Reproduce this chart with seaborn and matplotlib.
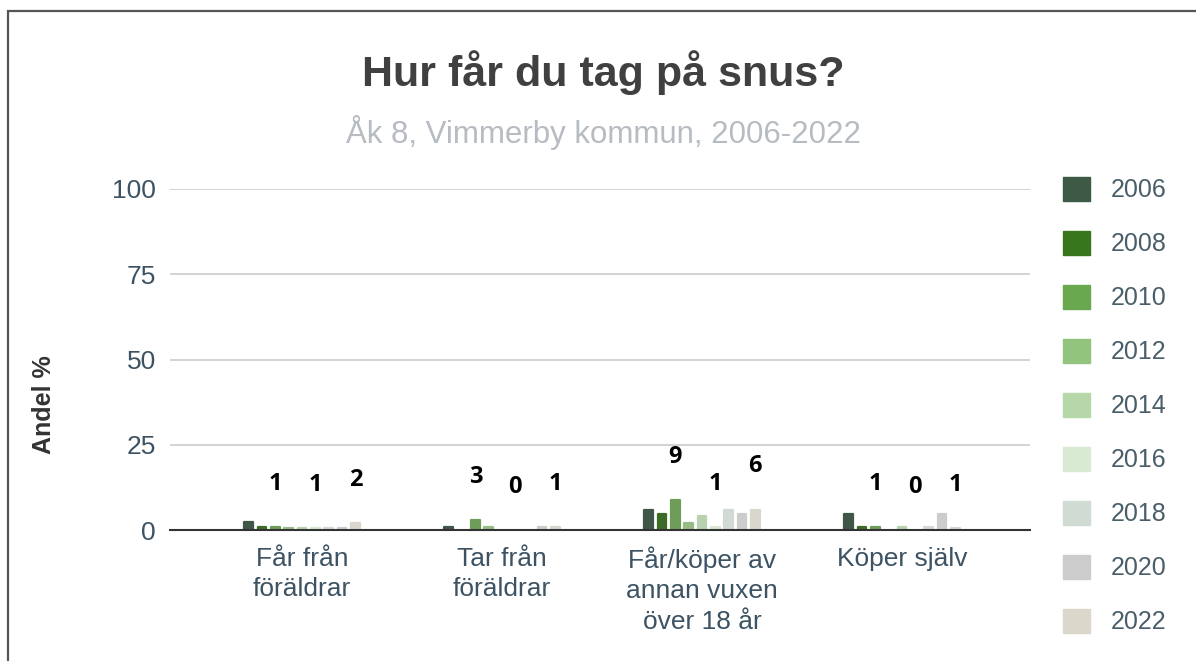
import matplotlib.pyplot as plt
import matplotlib.patches as mpatches
import seaborn as sns
import pandas as pd

sns.set_theme(style='white')
plt.rcParams['font.family'] = ['Liberation Sans', 'DejaVu Sans']

# data
categories = ['Får från\nföräldrar', 'Tar från\nföräldrar', 'Får/köper av\nannan vuxen\növer 18 år', 'Köper själv']
years = ['2006', '2008', '2010', '2012', '2014', '2016', '2018', '2020', '2022']
values = {
    '2006': [2.4, 0.8, 5.9, 4.6],
    '2008': [0.8, 0.0, 4.6, 0.8],
    '2010': [0.8, 2.9, 8.7, 0.8],
    '2012': [0.7, 0.8, 2.1, 0.0],
    '2014': [0.6, 0.0, 4.0, 0.8],
    '2016': [0.6, 0.0, 0.8, 0.0],
    '2018': [0.6, 0.0, 6.0, 0.8],
    '2020': [0.6, 0.8, 4.6, 4.6],
    '2022': [2.1, 0.8, 6.0, 0.6],
}
label_years = ['2010', '2016', '2022']
colors = ['#3c5a45', '#38761d', '#6aa84f', '#93c47d', '#b6d7a8',
          '#d9ead3', '#d0dbd4', '#cccccc', '#dbd8cb']

df = pd.DataFrame([(c, y, values[y][i]) for y in years for i, c in enumerate(categories)],
                  columns=['kategori', 'ar', 'andel'])

fig = plt.figure(figsize=(11.96, 6.61), dpi=100)
ax = fig.add_axes([170 / 1196, 131 / 661, 860 / 1196, 341 / 661])

sns.barplot(data=df, x='kategori', y='andel', hue='ar', hue_order=years,
            palette=colors, width=0.6, gap=0.35, ax=ax, legend=False)

# rounded look: same-colour edge with round joins on non-zero bars
for cont in ax.containers:
    for bar in cont:
        if bar.get_height() > 0:
            bar.set_edgecolor(bar.get_facecolor())
            bar.set_linewidth(1.6)
            bar.set_joinstyle('round')
        else:
            bar.set_visible(False)

for i, y in enumerate(years):
    if y in label_years:
        for bar in ax.containers[i]:
            h = bar.get_height()
            ax.annotate(f'{h:.0f}', (bar.get_x() + bar.get_width() / 2, h),
                        xytext=(0, 31), textcoords='offset points',
                        ha='center', va='center', fontsize=17, fontweight='bold',
                        color='black', family=['Open Sans', 'DejaVu Sans'])

ax.set_ylim(0, 100)
ax.set_xlim(-0.66, 3.64)
ax.set_yticks([0, 25, 50, 75, 100])
ax.yaxis.grid(True, color='#cccccc', linewidth=1.2)
ax.set_axisbelow(True)
for s in ['top', 'right', 'left']:
    ax.spines[s].set_visible(False)
ax.spines['bottom'].set_color('#333333')
ax.spines['bottom'].set_linewidth(1.5)
ax.tick_params(axis='both', length=0, labelsize=19, labelcolor='#3d5363')
ax.tick_params(axis='y', pad=10)
ax.tick_params(axis='x', pad=12)
for t in ax.get_xticklabels():
    t.set_linespacing(1.32)
ax.set_xlabel('')
ax.set_ylabel('Andel %', fontsize=18, fontweight='bold', color='#333333')
ax.yaxis.set_label_coords((56 - 170) / 860, (530 - 405) / 341)

handles = [mpatches.Patch(color=c, label=y) for c, y in zip(colors, years)]
fig.legend(handles=handles, loc='upper left', bbox_to_anchor=(1040 / 1196, 1 - 154 / 661),
           frameon=False, fontsize=18, labelcolor='#4a5e6a',
           handlelength=1.1, handleheight=1.1, labelspacing=1.14, handletextpad=0.85)

fig.text(603 / 1196, 1 - 73 / 661, 'Hur får du tag på snus?', ha='center', va='center',
         fontsize=31, fontweight='bold', color='#404040')
fig.text(603 / 1196, 1 - 133 / 661, 'Åk 8, Vimmerby kommun, 2006-2022', ha='center',
         va='center', fontsize=22.5, color='#b7bcc2')

fig.patches.append(mpatches.Rectangle((8 / 1196, -0.05), 1.1, 1 - 11 / 661 + 0.05,
                                      transform=fig.transFigure, fill=False,
                                      edgecolor='#555555', linewidth=1.6))

fig.savefig('out.png', dpi=100)
